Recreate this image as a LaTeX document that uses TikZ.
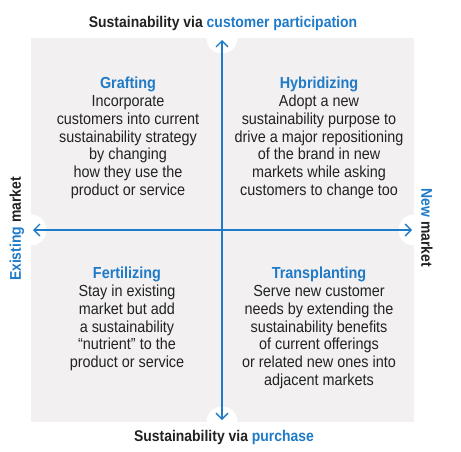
\documentclass[tikz,border=0pt]{standalone}
\usepackage{fontspec}
\setmainfont{Liberation Sans}[FakeStretch=0.9]
\usetikzlibrary{arrows.meta}
\definecolor{bgrey}{HTML}{F2F0F1}
\definecolor{ablue}{HTML}{1F7BC8}
\definecolor{tblack}{HTML}{222222}
\tikzset{
  quad/.style={align=center, inner sep=0pt, anchor=north, text=tblack,
    font=\fontsize{16}{17.8}\selectfont},
  axislabel/.style={inner sep=0pt, text=tblack, font=\fontsize{15.5}{17}\selectfont\bfseries},
  notch/.style={fill=white, draw=none},
  axis/.style={draw=ablue, line width=1.6pt, {Straight Barb[length=6pt,width=12pt,line width=1.4pt]}-{Straight Barb[length=6pt,width=12pt,line width=1.4pt]}},
}
\begin{document}
\begin{tikzpicture}[x=1pt,y=-1pt]
\useasboundingbox[fill=white] (0,0) rectangle (461,452);
\fill[bgrey] (31,38) rectangle (414,422);
\fill[notch] (222,38) circle (15.5);
\fill[notch] (222,422) circle (15.5);
\fill[notch] (31,230) circle (15.5);
\fill[notch] (414,230) circle (15.5);
\coordinate (top) at (222,40);
\coordinate (bot) at (222,420);
\coordinate (lft) at (33,230);
\coordinate (rgt) at (412,230);
\draw[axis] (bot) -- (top);
\draw[axis] (lft) -- (rgt);
\node[axislabel] (tl) at (223,23) {Sustainability via \textcolor{ablue}{customer participation}};
\node[axislabel] (bl) at (224,437) {Sustainability via \textcolor{ablue}{purchase}};
\node[axislabel, rotate=90] (ll) at (17,229) {\textcolor{ablue}{Existing} market};
\node[axislabel, rotate=-90] (rl) at (427,228) {\textcolor{ablue}{New} market};
\node[quad] (q1) at (128,77) {\textcolor{ablue}{\bfseries Grafting}\\Incorporate\\customers into current\\sustainability strategy\\by changing\\how they use the\\product or service};
\node[quad] (q2) at (319,77) {\textcolor{ablue}{\bfseries Hybridizing}\\Adopt a new\\sustainability purpose to\\drive a major repositioning\\of the brand in new\\markets while asking\\customers to change too};
\node[quad] (q3) at (127,267) {\textcolor{ablue}{\bfseries Fertilizing}\\Stay in existing\\market but add\\a sustainability\\“nutrient” to the\\product or service};
\node[quad] (q4) at (319,267) {\textcolor{ablue}{\bfseries Transplanting}\\Serve new customer\\needs by extending the\\sustainability benefits\\of current offerings\\or related new ones into\\adjacent markets};
\end{tikzpicture}
\end{document}
